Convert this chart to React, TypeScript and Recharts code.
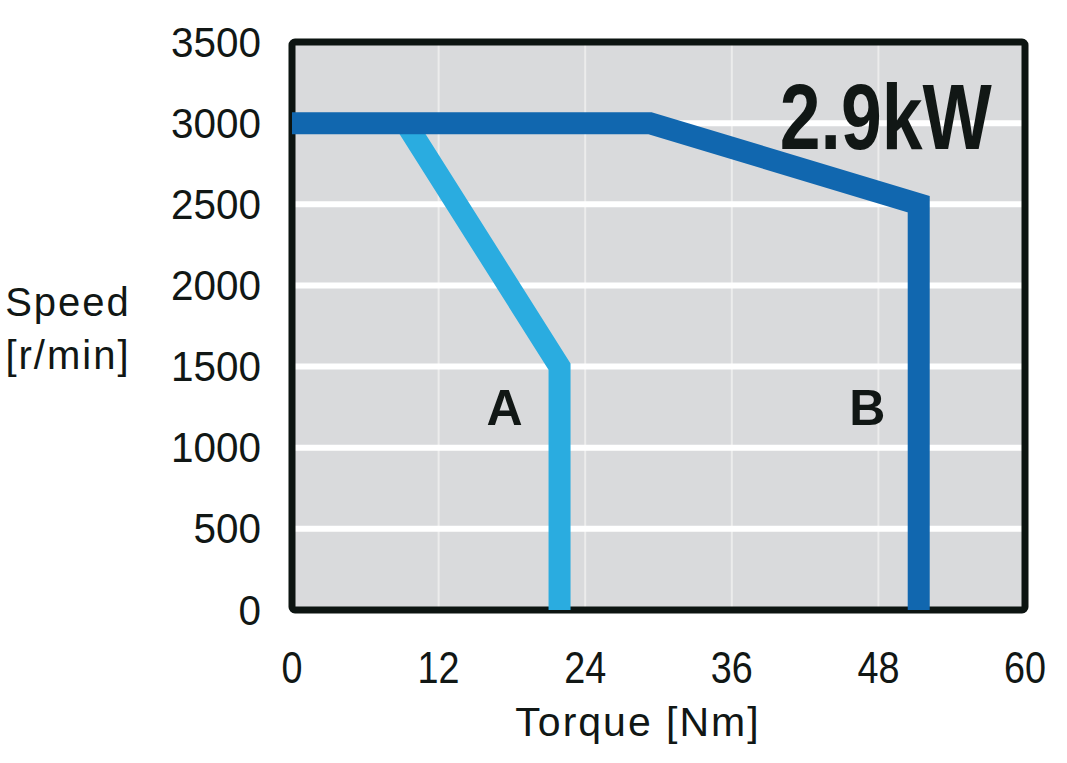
import React from 'react';
import {
  LineChart,
  Line,
  XAxis,
  YAxis,
  CartesianGrid,
  ReferenceArea,
  ReferenceDot,
} from 'recharts';

// torque ticks / speed ticks
const torqueTicks = [0, 12, 24, 36, 48, 60];
const speedTicks = [0, 500, 1000, 1500, 2000, 2500, 3000, 3500];

// curve A (light blue)
const curveATorque = [9.3, 21.9, 21.9];
const curveASpeed = [3000, 1500, 0];

// curve B (dark blue)
const curveBTorque = [0, 29.3, 51.3, 51.3];
const curveBSpeed = [3000, 3000, 2500, 0];

const curveA = curveATorque.map((t, i) => ({ torque: t, speed: curveASpeed[i] }));
const curveB = curveBTorque.map((t, i) => ({ torque: t, speed: curveBSpeed[i] }));

const FONT = '"Liberation Sans", Arial, sans-serif';
const TEXT_COLOR = '#111715';

const YTick = ({ y, payload }: any) => (
  <text
    x={261}
    y={y}
    textAnchor="end"
    dominantBaseline="central"
    fontFamily={FONT}
    fontSize={42}
    fill={TEXT_COLOR}
    textLength={String(payload.value).length * 22.5}
    lengthAdjust="spacingAndGlyphs"
  >
    {payload.value}
  </text>
);

const XTick = ({ x, payload }: any) => (
  <text
    x={x}
    y={667}
    textAnchor="middle"
    dominantBaseline="central"
    fontFamily={FONT}
    fontSize={44}
    fill={TEXT_COLOR}
    textLength={String(payload.value).length * 21}
    lengthAdjust="spacingAndGlyphs"
  >
    {payload.value}
  </text>
);

const makeTextShape = (text: string, size: number, width?: number) => (props: any) => (
  <text
    x={props.cx}
    y={props.cy}
    textAnchor="middle"
    dominantBaseline="central"
    fontFamily={FONT}
    fontWeight="bold"
    fontSize={size}
    fill={TEXT_COLOR}
    textLength={width}
    lengthAdjust={width ? 'spacingAndGlyphs' : undefined}
  >
    {text}
  </text>
);

const App: React.FC = () => {
  return (
    <div style={{ position: 'absolute', left: 0, top: 0, background: '#fff' }}>
      <LineChart
        width={1067}
        height={763}
        margin={{ top: 42, right: 42, left: 0, bottom: 0 }}
      >
        <CartesianGrid
          fill="#d9dadc"
          horizontal={false}
          stroke="#ececec"
          strokeWidth={2}
        />
        <CartesianGrid vertical={false} stroke="#ffffff" strokeWidth={6} />
        <XAxis
          type="number"
          dataKey="torque"
          domain={[0, 60]}
          ticks={torqueTicks}
          height={153}
          axisLine={false}
          tickLine={false}
          tick={<XTick />}
          interval={0}
          label={{
            content: () => (
              <text
                x={638}
                y={722}
                textAnchor="middle"
                dominantBaseline="central"
                fontFamily={FONT}
                fontSize={41}
                letterSpacing={2}
                fill={TEXT_COLOR}
              >
                Torque [Nm]
              </text>
            ),
          }}
        />
        <YAxis
          type="number"
          domain={[0, 3500]}
          ticks={speedTicks}
          width={292}
          axisLine={false}
          tickLine={false}
          tick={<YTick />}
          interval={0}
          label={{
            content: () => (
              <g fontFamily={FONT} fontSize={40} fill={TEXT_COLOR} letterSpacing={2}>
                <text x={68} y={302} textAnchor="middle" dominantBaseline="central">
                  Speed
                </text>
                <text x={68} y={355} textAnchor="middle" dominantBaseline="central">
                  [r/min]
                </text>
              </g>
            ),
          }}
        />
        <Line
          data={curveA}
          dataKey="speed"
          stroke="#2aace0"
          strokeWidth={22}
          strokeLinejoin="miter"
          strokeLinecap="butt"
          dot={false}
          activeDot={false}
          isAnimationActive={false}
        />
        <Line
          data={curveB}
          dataKey="speed"
          stroke="#1167af"
          strokeWidth={22}
          strokeLinejoin="miter"
          strokeLinecap="butt"
          dot={false}
          activeDot={false}
          isAnimationActive={false}
        />
        <ReferenceArea
          x1={0}
          x2={60}
          y1={0}
          y2={3500}
          fill="none"
          fillOpacity={0}
          stroke="#0c1411"
          strokeWidth={7}
          radius={3}
          ifOverflow="visible"
        />
        <ReferenceDot x={17.4} y={1243} r={0} shape={makeTextShape('A', 50)} ifOverflow="visible" />
        <ReferenceDot x={47.1} y={1243} r={0} shape={makeTextShape('B', 50)} ifOverflow="visible" />
        <ReferenceDot
          x={48.6}
          y={3040}
          r={0}
          shape={makeTextShape('2.9kW', 93, 212)}
          ifOverflow="visible"
        />
      </LineChart>
    </div>
  );
};

export default App;
